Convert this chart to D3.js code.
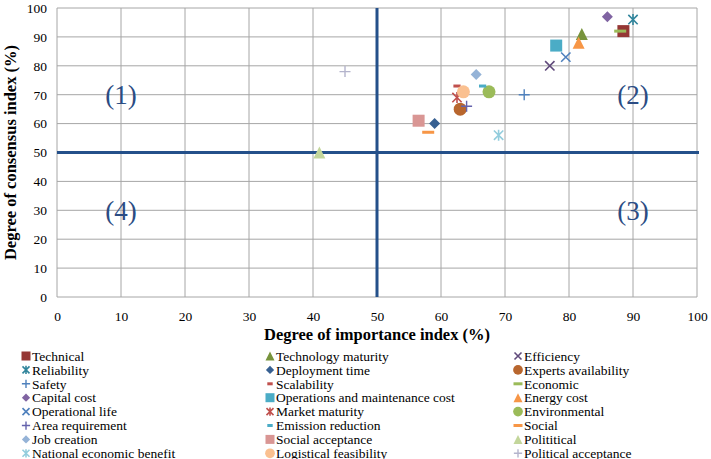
<html>
<head>
<meta charset="utf-8">
<style>
  body { margin: 0; background: #fff; }
  svg text { font-family: "Liberation Serif", Tinos, "Times New Roman", Times, serif; }
</style>
</head>
<body>
<script src="https://cdn.jsdelivr.net/npm/d3@7"></script>
<script>
// data
var categories = ["Technical", "Technology maturity", "Efficiency",
  "Reliability", "Deployment time", "Experts availability",
  "Safety", "Scalability", "Economic",
  "Capital cost", "Operations and maintenance cost", "Energy cost",
  "Operational life", "Market maturity", "Environmental",
  "Area requirement", "Emission reduction", "Social",
  "Job creation", "Social acceptance", "Polititical",
  "National economic benefit", "Logistical feasibility", "Political acceptance"];
var importance = [88.5, 82, 77, 90, 59, 63, 73, 62.5, 88, 86, 78, 81.5,
  79.5, 62.5, 67.5, 64, 66.5, 58, 65.5, 56.5, 41, 69, 63.5, 45];
var consensus = [92, 91, 80, 96, 60, 65, 70, 73, 92, 97, 87, 88,
  83, 69, 71, 66, 73, 57, 77, 61, 50, 56, 71, 78];
var xTicks = [0, 10, 20, 30, 40, 50, 60, 70, 80, 90, 100];
var yTicks = [0, 10, 20, 30, 40, 50, 60, 70, 80, 90, 100];
var quadrants = [["(1)", 10, 70], ["(2)", 90, 70], ["(3)", 90, 30], ["(4)", 10, 30]];

// marker styles
var markers = ["square", "triangle", "x", "asterisk", "diamond", "circle",
  "plus", "dash", "longdash", "diamond", "square", "triangle",
  "x", "asterisk", "circle", "plus", "dash", "longdash",
  "diamond", "square", "triangle", "asterisk", "circle", "plus"];
var colors = ["#953735", "#77933c", "#604a7b", "#31859c", "#376092", "#b8662e",
  "#4f81bd", "#c0504d", "#9bbb59", "#8064a2", "#4bacc6", "#f79646",
  "#4f81bd", "#c0504d", "#9bbb59", "#6462ac", "#4bacc6", "#f79646",
  "#95b3d7", "#d99694", "#c3d69b", "#93cddd", "#fac090", "#b4b4cc"];

var width = 711, height = 459;
var m = {left: 57, right: 14, top: 8, bottom: 162};
var serif = "'Liberation Serif', Tinos, 'Times New Roman', Times, serif";

var svg = d3.select("body").append("svg")
  .attr("width", width)
  .attr("height", height)
  .attr("font-family", serif);

var x = d3.scaleLinear().domain([0, 100]).range([m.left, width - m.right]);
var y = d3.scaleLinear().domain([0, 100]).range([height - m.bottom, m.top]);

// grid
var grid = svg.append("g");
grid.selectAll(".gx").data(xTicks).join("line")
  .attr("x1", d => x(d)).attr("x2", d => x(d))
  .attr("y1", y(0)).attr("y2", y(100))
  .attr("stroke", "#a6a6a6").attr("stroke-width", 1);
grid.selectAll(".gy").data(yTicks).join("line")
  .attr("y1", d => y(d)).attr("y2", d => y(d))
  .attr("x1", x(0)).attr("x2", x(100))
  .attr("stroke", "#a6a6a6").attr("stroke-width", 1);

// axes (labels only)
var xAxis = svg.append("g")
  .attr("transform", "translate(0," + y(0) + ")")
  .call(d3.axisBottom(x).tickValues(xTicks).tickSize(0).tickPadding(14));
var yAxis = svg.append("g")
  .attr("transform", "translate(" + x(0) + ",0)")
  .call(d3.axisLeft(y).tickValues(yTicks).tickSize(0).tickPadding(10));
[xAxis, yAxis].forEach(function(a) {
  a.attr("font-family", serif).attr("font-size", 13.5);
  a.select(".domain").remove();
  a.selectAll("text").attr("fill", "#000");
});

svg.append("text")
  .attr("x", x(50)).attr("y", 340)
  .attr("text-anchor", "middle")
  .attr("font-size", 16.5).attr("font-weight", "bold")
  .text("Degree of importance index (%)");
svg.append("text")
  .attr("transform", "translate(16," + y(50) + ") rotate(-90)")
  .attr("text-anchor", "middle")
  .attr("font-size", 16.5).attr("font-weight", "bold")
  .text("Degree of consensus index (%)");

// quadrant dividers
svg.append("line")
  .attr("x1", x(0)).attr("x2", x(100) + 2)
  .attr("y1", y(50)).attr("y2", y(50))
  .attr("stroke", "#24508a").attr("stroke-width", 3);
svg.append("line")
  .attr("x1", x(50)).attr("x2", x(50))
  .attr("y1", y(100)).attr("y2", y(0))
  .attr("stroke", "#24508a").attr("stroke-width", 3);

svg.selectAll(".quad").data(quadrants).join("text")
  .attr("x", d => x(d[1])).attr("y", d => y(d[2]))
  .attr("dy", "0.35em")
  .attr("text-anchor", "middle")
  .attr("font-size", 27).attr("fill", "#2b4c83")
  .text(d => d[0]);

// draw one marker in group g
function drawMarker(g, type, color, s) {
  var h = s / 2;
  if (type == "square") {
    g.append("rect").attr("x", -h).attr("y", -h).attr("width", s).attr("height", s).attr("fill", color);
  } else if (type == "circle") {
    g.append("circle").attr("r", h).attr("fill", color);
  } else if (type == "diamond") {
    g.append("path").attr("d", "M0," + (-h) + "L" + h + ",0L0," + h + "L" + (-h) + ",0Z").attr("fill", color);
  } else if (type == "triangle") {
    g.append("path").attr("d", "M0," + (-h) + "L" + h + "," + h + "L" + (-h) + "," + h + "Z").attr("fill", color);
  } else if (type == "x" || type == "asterisk") {
    var k = h * 0.85;
    var d = "M" + (-k) + "," + (-k) + "L" + k + "," + k + "M" + k + "," + (-k) + "L" + (-k) + "," + k;
    if (type == "asterisk") d += "M0," + (-h) + "L0," + h;
    g.append("path").attr("d", d).attr("stroke", color).attr("stroke-width", 1.6).attr("fill", "none");
  } else if (type == "plus") {
    g.append("path").attr("d", "M" + (-h) + ",0L" + h + ",0M0," + (-h) + "L0," + h)
      .attr("stroke", color).attr("stroke-width", 1.4).attr("fill", "none");
  } else if (type == "dash") {
    g.append("rect").attr("x", -h * 0.6).attr("y", -1.5).attr("width", s * 0.6).attr("height", 3).attr("fill", color);
  } else if (type == "longdash") {
    g.append("rect").attr("x", -h).attr("y", -1.5).attr("width", s).attr("height", 3).attr("fill", color);
  }
}

var sizes = {square: 12, circle: 13, diamond: 11, triangle: 12, x: 11, asterisk: 11, plus: 11, dash: 12, longdash: 12};

categories.forEach(function(c, i) {
  var g = svg.append("g").attr("transform", "translate(" + x(importance[i]) + "," + y(consensus[i]) + ")");
  drawMarker(g, markers[i], colors[i], sizes[markers[i]]);
});

// legend
var colX = [26, 270, 518];
categories.forEach(function(c, i) {
  var lx = colX[i % 3], ly = 356 + Math.floor(i / 3) * 13.9;
  var g = svg.append("g").attr("transform", "translate(" + lx + "," + ly + ")");
  drawMarker(g, markers[i], colors[i], sizes[markers[i]] * 0.75);
  svg.append("text").attr("x", lx + 6).attr("y", ly).attr("dy", "0.35em")
    .attr("font-size", 13.5).attr("fill", "#000").text(c);
});
</script>
</body>
</html>
